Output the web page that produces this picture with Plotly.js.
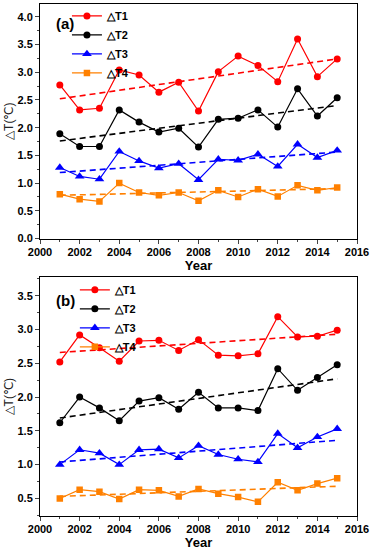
<!DOCTYPE html>
<html><head><meta charset="utf-8">
<script src="https://cdn.plot.ly/plotly-3.0.1.min.js"></script>
<style>html,body{margin:0;padding:0;background:#fff}#chart{width:371px;height:550px}</style>
</head><body><div id="chart"></div>
<script>
var years = [2001,2002,2003,2004,2005,2006,2007,2008,2009,2010,2011,2012,2013,2014,2015];
var names = ['△T1','△T2','△T3','△T4'];
// Panel (a)
var aT1 = [2.77,2.32,2.35,3.04,2.95,2.64,2.82,2.30,3.01,3.29,3.12,2.83,3.60,2.92,3.24];
var aT2 = [1.89,1.66,1.66,2.32,2.10,1.92,1.99,1.65,2.15,2.17,2.32,2.01,2.70,2.21,2.54];
var aT3 = [1.28,1.12,1.07,1.57,1.40,1.27,1.35,1.06,1.43,1.41,1.52,1.30,1.70,1.46,1.59];
var aT4 = [0.80,0.71,0.67,1.00,0.83,0.78,0.83,0.68,0.87,0.75,0.89,0.76,0.96,0.87,0.92];
// Panel (b)
var bT1 = [2.52,2.92,2.73,2.53,2.83,2.84,2.69,2.85,2.62,2.61,2.64,3.19,2.89,2.90,2.99];
var bT2 = [1.62,2.00,1.84,1.65,1.94,1.99,1.82,2.07,1.84,1.84,1.80,2.42,2.10,2.29,2.48];
var bT3 = [1.00,1.22,1.17,1.00,1.22,1.23,1.10,1.28,1.15,1.08,1.04,1.46,1.25,1.41,1.53];
var bT4 = [0.50,0.63,0.60,0.49,0.63,0.62,0.53,0.64,0.57,0.52,0.45,0.74,0.62,0.72,0.80];
// Trend line ends (2001, 2015)
var trendYears = [2001, 2015];
var aTrend = [[2.52,3.24],[1.76,2.40],[1.19,1.56],[0.78,0.90]];
var bTrend = [[2.66,2.93],[1.69,2.27],[1.04,1.36],[0.53,0.68]];
var xTicks = [2000,2002,2004,2006,2008,2010,2012,2014,2016];
var yTicksA = [0.0,0.5,1.0,1.5,2.0,2.5,3.0,3.5,4.0];
var yTicksB = [0.5,1.0,1.5,2.0,2.5,3.0,3.5];

var colors = ['#ff0000','#000000','#0000ff','#ff8000'];
var symbols = ['circle','circle','triangle-up','square'];
var sizes = [7,7,8.5,6.5];

var traces = [];
function addPanel(series, trends, xa, ya, legendName){
  for (var i=0;i<4;i++){
    traces.push({x:trendYears, y:trends[i], xaxis:xa, yaxis:ya, mode:'lines',
      line:{color:colors[i], width:1.6, dash:'6px,4px'}, showlegend:false, hoverinfo:'skip'});
  }
  for (var i=0;i<4;i++){
    traces.push({x:years, y:series[i], xaxis:xa, yaxis:ya, name:names[i], legend:legendName,
      mode:'lines+markers', line:{color:colors[i], width:1.2},
      marker:{color:colors[i], symbol:symbols[i], size:sizes[i]}});
  }
}
addPanel([aT1,aT2,aT3,aT4], aTrend, 'x', 'y', 'legend');
addPanel([bT1,bT2,bT3,bT4], bTrend, 'x2', 'y2', 'legend2');

var FONT = 'Liberation Sans, Arial, sans-serif';
var tickFont = {family:FONT, size:11, color:'#000', weight:700};
function bold(v, d){ return '<b>' + (d ? v.toFixed(d) : String(v)) + '</b>'; }
function xax(anchor){
  return {anchor:anchor, range:[2000,2016], tickmode:'array', tickvals:xTicks,
    ticktext:xTicks.map(function(v){return bold(v,0);}), automargin:false,
    ticks:'outside', ticklen:4, tickwidth:1, showgrid:false, zeroline:false,
    showline:true, linecolor:'#000', linewidth:1, mirror:true, ticklabelstandoff:-1,
    minor:{dtick:1, tick0:2000, ticks:'outside', ticklen:2, tickwidth:1, showgrid:false},
    tickfont:tickFont,
    title:{text:'<b>Year</b>', font:{family:FONT, size:13, color:'#000'}, standoff:3}};
}
function yax(anchor, range, domain, tv){
  return {anchor:anchor, range:range, domain:domain, tickmode:'array', tickvals:tv,
    ticktext:tv.map(function(v){return bold(v,1);}), automargin:false,
    ticks:'outside', ticklen:4, tickwidth:1, showgrid:false, zeroline:false,
    showline:true, linecolor:'#000', linewidth:1, mirror:true,
    minor:{dtick:0.25, tick0:0, ticks:'outside', ticklen:2, tickwidth:1, showgrid:false},
    tickfont:tickFont,
    title:{text:'△T(℃)', font:{family:FONT, size:12, color:'#222'}, standoff:1}};
}
var legendFont = {family:FONT, size:11, color:'#000', weight:'bold'};
var layout = {
  width:371, height:550, margin:{l:40, r:14, t:4, b:34, autoexpand:false},
  paper_bgcolor:'#fff', plot_bgcolor:'#fff', showlegend:true,
  xaxis: xax('y'),
  yaxis: yax('x', [0,4.23], [0.5419,1], yTicksA),
  xaxis2: xax('y2'),
  yaxis2: yax('x2', [0.24,3.77], [0,0.4659], yTicksB),
  legend:{x:0.085, y:1.005, xanchor:'left', yanchor:'top', bgcolor:'rgba(0,0,0,0)',
    font:legendFont, tracegroupgap:0, itemwidth:30},
  legend2:{x:0.11, y:0.47, xanchor:'left', yanchor:'top', bgcolor:'rgba(0,0,0,0)',
    font:legendFont, tracegroupgap:0, itemwidth:30},
  annotations:[
    {text:'<b>(a)</b>', xref:'paper', yref:'paper', x:0.045, y:0.962, xanchor:'left', yanchor:'middle', showarrow:false,
     font:{family:FONT, size:15, color:'#000'}},
    {text:'<b>(b)</b>', xref:'paper', yref:'paper', x:0.045, y:0.42, xanchor:'left', yanchor:'middle', showarrow:false,
     font:{family:FONT, size:15, color:'#000'}}
  ]
};
Plotly.newPlot('chart', traces, layout, {displayModeBar:false, staticPlot:true});
</script></body></html>
